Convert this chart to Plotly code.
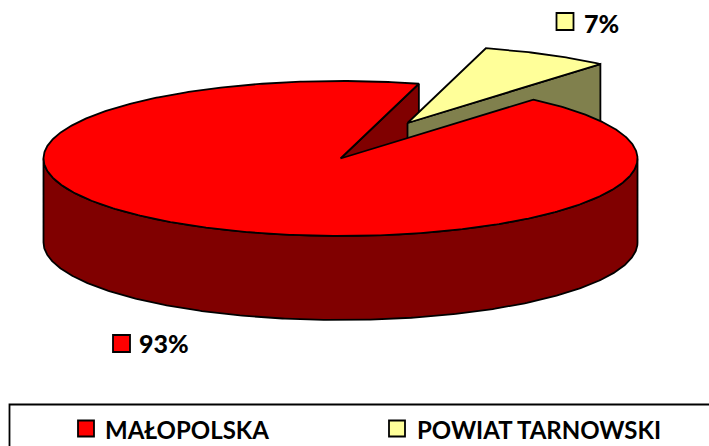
import numpy as np
import plotly.graph_objects as go

# Data
categories = ["MAŁOPOLSKA", "POWIAT TARNOWSKI"]
values = [93, 7]
top_colors = ["#FF0000", "#FFFF99"]
side_colors = ["#800000", "#80804D"]

# Projection of the 3-D pie onto pixel-scaled axes
CX, CY, RX, RY, DEPTH = 340.5, 158.5, 297.0, 77.5, 84.0
FIRST_ANGLE = 40.5            # clockwise from the back of the pie
EXPLODE = (67.0, -35.5)       # offset of the detached slice
LINE = dict(color="black", width=1.8)

shares = np.array(values, dtype=float) / sum(values) * 360
starts = FIRST_ANGLE + np.concatenate([[0], np.cumsum(shares)[:-1]])


def rim(deg, dx=0.0, dy=0.0):
    t = np.radians(deg)
    return CX + dx + RX * np.sin(t), CY + dy - RY * np.cos(t)


def arc(a, b, dx=0.0, dy=0.0):
    return rim(np.linspace(a, b, max(int(abs(b - a) * 2), 2)), dx, dy)


def poly(xs, ys, color, name):
    return go.Scatter(x=list(xs) + [xs[0]], y=list(ys) + [ys[0]], mode="lines",
                      fill="toself", fillcolor=color, line=LINE,
                      hoverinfo="skip", showlegend=False, name=name)


def key(x, y, size, color):
    return go.Scatter(x=[x], y=[y], mode="markers", hoverinfo="skip", showlegend=False,
                      marker=dict(symbol="square", size=size, color=color,
                                  line=dict(color="black", width=1.8)))


def label(x, y, text, size, weight):
    return go.Scatter(x=[x], y=[y], mode="text", text=[text], textposition="middle right",
                      textfont=dict(family="Lato", size=size, color="black", weight=weight),
                      hoverinfo="skip", showlegend=False, cliponaxis=False)


fig = go.Figure()

s0, e0 = starts[0], starts[0] + shares[0]
s1, e1 = starts[1], starts[1] + shares[1]

# Inner cut face of the large slice
rx, ry = rim(e0)
fig.add_trace(poly([CX, rx, rx, CX], [CY, ry, ry + DEPTH, CY + DEPTH], side_colors[0], categories[0]))

# Detached slice: inner face then top
ax, ay = CX + EXPLODE[0], CY + EXPLODE[1]
ex, ey = rim(e1, *EXPLODE)
fig.add_trace(poly([ax, ex, ex, ax], [ay, ey, ey + DEPTH, ay + DEPTH], side_colors[1], categories[1]))
ux, uy = arc(s1, e1, *EXPLODE)
fig.add_trace(poly([ax, *ux], [ay, *uy], top_colors[1], categories[1]))

# Outer wall of the large slice (front half), then its top
wx, wy = arc(90, 270)
fig.add_trace(poly([*wx, *wx[::-1]], [*wy, *(wy[::-1] + DEPTH)], side_colors[0], categories[0]))
tx, ty = arc(s0, e0)
fig.add_trace(poly([CX, *tx], [CY, *ty], top_colors[0], categories[0]))

# Data labels
label_keys = [(121.5, 343.5), (565, 21.5)]
label_texts = [(139, 347), (584, 27)]
for i in range(len(values)):
    fig.add_trace(key(*label_keys[i], 17, top_colors[i]))
    fig.add_trace(label(*label_texts[i], f"{values[i]}%", 25, 900))

# Legend box, keys and names
fig.add_shape(type="rect", xref="x", yref="y", x0=9.5, x1=720, y0=404.5, y1=460,
              line=dict(color="black", width=1.8), fillcolor="rgba(0,0,0,0)")
legend_keys = [(86, 428.5), (397, 428.5)]
legend_texts = [(105, 433), (417, 433)]
for i, name in enumerate(categories):
    fig.add_trace(key(*legend_keys[i], 16, top_colors[i]))
    fig.add_trace(label(*legend_texts[i], name, 24, 700))

fig.update_layout(
    width=709, height=446, margin=dict(l=0, r=0, t=0, b=0),
    paper_bgcolor="white", plot_bgcolor="white", showlegend=False,
    xaxis=dict(range=[0, 709], visible=False, fixedrange=True),
    yaxis=dict(range=[446, 0], visible=False, fixedrange=True),
)

fig.write_html("out.html", config={"displayModeBar": False},
               post_script="document.body.style.margin='0';document.body.style.overflow='hidden';")
